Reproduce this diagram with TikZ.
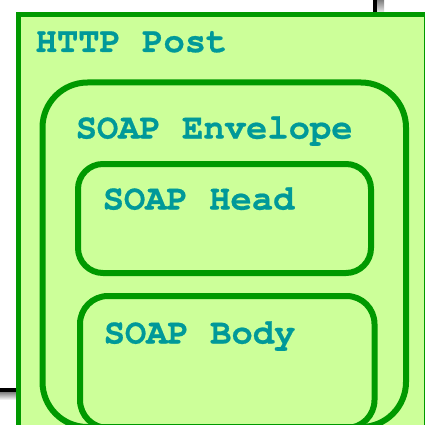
\documentclass[tikz,border=0pt]{standalone}
\usepackage{fontspec}
\newfontfamily\monob[BoldFeatures={FakeBold=0.6}]{TeX Gyre Cursor}
\definecolor{boxfill}{HTML}{CCFF99}
\definecolor{boxline}{HTML}{009900}
\definecolor{txt}{HTML}{009999}
\definecolor{shade}{HTML}{999999}
\begin{document}
\begin{tikzpicture}[x=1pt,y=-1pt,
  lbl/.style={anchor=base west,inner sep=0pt,text=txt,font=\monob\bfseries\fontsize{35.5}{40}\selectfont},
  inbox/.style={draw=boxline,line width=6pt}]
\useasboundingbox (0,0) rectangle (425,425);
\clip (0,0) rectangle (425,425);
\fill[white] (0,0) rectangle (425,425);
% background lines with shadows
\fill[shade] (376.7,0) rectangle (384,15);
\fill[black] (372.7,0) rectangle (376.7,15);
\fill[shade] (0,392) rectangle (18,400);
\fill[black] (0,388) rectangle (18,392);
% outer box
\draw[fill=boxfill,draw=boxline,line width=5pt] (18,15) rectangle (426,440);
% envelope
\draw[inbox,rounded corners=45pt] (42.5,82.5) rectangle (406,427);
% head
\draw[inbox,rounded corners=25pt] (78,164) rectangle (371,273);
% body
\draw[inbox,rounded corners=28pt] (80,296) rectangle (374.5,428);
\node[lbl] (http) at (35.5,52) {HTTP Post};
\node[lbl] (env) at (75.5,138.5) {SOAP Envelope};
\node[lbl] (head) at (102.5,209.5) {SOAP Head};
\node[lbl] (body) at (103.5,343.5) {SOAP Body};
\end{tikzpicture}
\end{document}
